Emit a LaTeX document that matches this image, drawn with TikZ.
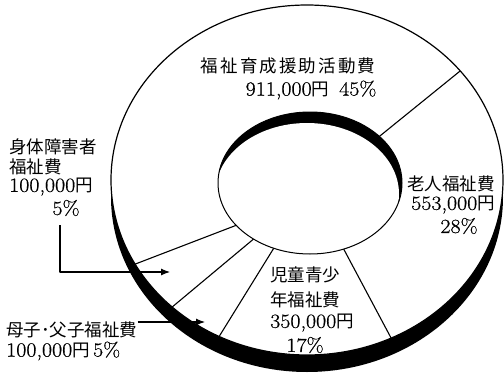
\documentclass[tikz,border=0pt]{standalone}
\usepackage{fontspec}
\newfontfamily\jp{Noto Sans CJK JP}
\newfontfamily\dg{Latin Modern Roman}[FakeStretch=1.1,FakeBold=0.7]
\usetikzlibrary{arrows.meta}
\newcommand\kj[1]{{\jp\fontsize{17.5}{20}\selectfont #1}}
\newcommand\nm[1]{{\dg\fontsize{20}{20}\selectfont #1}}
\begin{document}
\begin{tikzpicture}[x=1pt,y=-1pt,line join=round,
  sector/.style={line width=1.1pt},
  lbl/.style={inner sep=0pt},
  pointer/.style={line width=1.1pt,-{Latex[length=9pt,width=7pt]}}]
\useasboundingbox (0,0) rectangle (504,378);
\fill[white] (0,0) rectangle (504,378);
% outer side band and top face
\fill[black] (307,197) ellipse [x radius=196pt,y radius=175pt];
\fill[white] (307,180) ellipse [x radius=196pt,y radius=175pt];
\begin{scope}
  \clip (307,180) ellipse [x radius=196pt,y radius=175pt];
  \draw[sector] (370,144) -- (470,63);
  \draw[sector] (250,220) -- (125,268);
  \draw[sector] (262,232) -- (165,313);
  \draw[sector] (277,243) -- (212,348);
  \draw[sector] (341,244) -- (398,351);
\end{scope}
\draw[line width=1.2pt] (307,180) ellipse [x radius=196pt,y radius=175pt];
% hole with inner wall
\begin{scope}
  \clip (310,183) ellipse [x radius=92pt,y radius=71pt];
  \fill[black] (310,183) ellipse [x radius=92pt,y radius=71pt];
  \fill[white] (307,194) ellipse [x radius=92pt,y radius=71pt];
\end{scope}
\draw[line width=1pt] (310,183) ellipse [x radius=92pt,y radius=71pt];
% labels
\node[lbl] (a1) at (288,66) {\kj{\addfontfeature{LetterSpace=12}福祉育成援助活動費}};
\node[lbl] (a2) at (311,90) {\nm{911,000}\kj{円}\quad\nm{45\%}};
\node[lbl] (b1) at (451,184) {\kj{老人福祉費}};
\node[lbl] (b2) at (453,205) {\nm{553,000}\kj{円}};
\node[lbl] (b3) at (459,226) {\nm{28\%}};
\node[lbl] (c1) at (305,275) {\kj{児童青少}};
\node[lbl] (c2) at (305,300) {\kj{年福祉費}};
\node[lbl] (c3) at (312,323) {\nm{350,000}\kj{円}};
\node[lbl] (c4) at (305,345) {\nm{17\%}};
\node[lbl,anchor=west] (d1) at (9,147) {\kj{身体障害者}};
\node[lbl,anchor=west] (d2) at (9,167) {\kj{福祉費}};
\node[lbl,anchor=west] (d3) at (9,187) {\nm{100,000}\kj{円}};
\node[lbl] (d4) at (66,208) {\nm{5\%}};
\node[lbl,anchor=west] (e1) at (6,330) {\kj{母子･父子福祉費}};
\node[lbl,anchor=west] (e2) at (6,351) {\nm{100,000}\kj{円} \nm{5\%}};
% pointers
\coordinate (p1) at (170,272);
\coordinate (p2) at (205,322);
\draw[pointer] (60,225) |- (p1);
\draw[pointer] (e1.east |- p2) -- (p2);
\end{tikzpicture}
\end{document}
